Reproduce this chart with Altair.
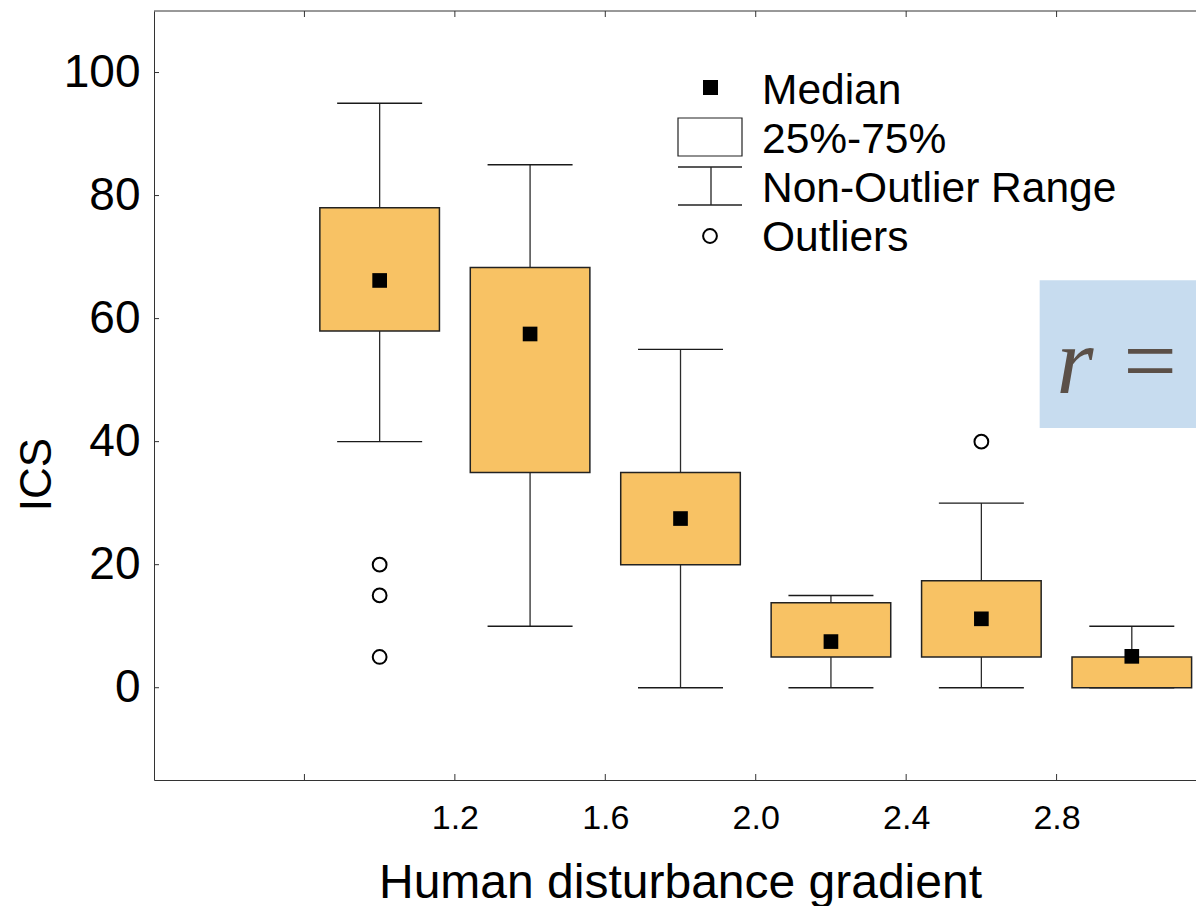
import altair as alt
import pandas as pd

# ---- data ----
group_x = [1.0, 1.4, 1.8, 2.2, 2.6, 3.0]
whisker_low = [40, 10, 0, 0, 0, 0]
q1 = [58, 35, 20, 5, 5, 0]
median = [66.2, 57.5, 27.5, 7.5, 11.2, 5.1]
q3 = [78, 68.3, 35, 13.8, 17.4, 5]
whisker_high = [95, 85, 55, 15, 30, 10]

outlier_x = [1.0, 1.0, 1.0, 2.6]
outlier_y = [20, 15, 5, 40]

x_tick_values = [0.8, 1.2, 1.6, 2.0, 2.4, 2.8]
x_label_values = [1.2, 1.6, 2.0, 2.4, 2.8]
y_tick_values = [0, 20, 40, 60, 80, 100]

legend_labels = ["Median", "25%-75%", "Non-Outlier Range", "Outliers"]

annot_text = ["r ="]
annot_box_x = [2.755, 3.1707]
annot_box_y = [42.2, 66.25]
annot_text_pos = [2.80, 47.9]

boxes = pd.DataFrame({
    "x": group_x, "low": whisker_low, "q1": q1, "med": median,
    "q3": q3, "high": whisker_high,
})
outliers = pd.DataFrame({"x": outlier_x, "y": outlier_y})

# ---- layout ----
W, H = 1042, 769
FONT = "Liberation Sans"
xs = alt.Scale(domain=[0.4, 3.1707], nice=False, zero=False)
ys = alt.Scale(domain=[-15, 110], nice=False, zero=False)

xaxis = alt.Axis(
    values=x_label_values, format=".1f", tickSize=0, grid=False,
    labelFontSize=34, labelPadding=21, labelFont=FONT, labelColor="black",
    domainColor="#333333", domainWidth=1,
    title="Human disturbance gradient", titleFont=FONT, titleFontSize=48,
    titleFontWeight="normal", titleColor="black",
    titleX=526, titleY=117, titleBaseline="alphabetic", titleAlign="center",
)
yaxis = alt.Axis(
    values=y_tick_values, format="d", tickSize=0, grid=False,
    labelFontSize=46, labelPadding=14, labelFont=FONT, labelColor="black",
    domainColor="#333333", domainWidth=1,
    title="ICS", titleFont=FONT, titleFontSize=44, titleFontWeight="normal",
    titleColor="black", titleAngle=270,
    titleX=-104, titleY=463, titleBaseline="alphabetic", titleAlign="center",
)

X = lambda f: alt.X(f, scale=xs, axis=xaxis)
Y = lambda f: alt.Y(f, scale=ys, axis=yaxis)

whiskers = alt.Chart(boxes).mark_rule(color="#2b2b2b", strokeWidth=1.3).encode(
    x=X("x:Q"), y=Y("low:Q"), y2="high:Q"
)

caps = alt.Chart(boxes).transform_fold(
    ["low", "high"], as_=["k", "v"]
).transform_calculate(
    xa="datum.x - 0.113", xb="datum.x + 0.113"
).mark_rule(color="#1a1a1a", strokeWidth=1.4).encode(
    x=X("xa:Q"), x2="xb:Q", y=Y("v:Q")
)

box = alt.Chart(boxes).transform_calculate(
    xa="datum.x - 0.159", xb="datum.x + 0.159"
).mark_rect(fill="#F8C264", stroke="#222222", strokeWidth=1.5).encode(
    x=X("xa:Q"), x2="xb:Q", y=Y("q1:Q"), y2="q3:Q"
)

med = alt.Chart(boxes).mark_point(
    shape="square", filled=True, color="black", size=215, opacity=1
).encode(x=X("x:Q"), y=Y("med:Q"))

outl = alt.Chart(outliers).mark_point(
    shape="circle", filled=True, fill="white", stroke="black",
    strokeWidth=2, size=190, opacity=1
).encode(x=X("x:Q"), y=Y("y:Q"))

# ticks (pointing inward)
yt = alt.Chart(pd.DataFrame({"v": y_tick_values})).mark_rule(
    color="#333333", strokeWidth=1
).encode(y=Y("v:Q"), x=alt.value(0), x2=alt.value(5))
xt_bottom = alt.Chart(pd.DataFrame({"v": x_tick_values})).mark_rule(
    color="#333333", strokeWidth=1
).encode(x=X("v:Q"), y=alt.value(H), y2=alt.value(H - 6))
xt_top = alt.Chart(pd.DataFrame({"v": x_tick_values})).mark_rule(
    color="#333333", strokeWidth=1
).encode(x=X("v:Q"), y=alt.value(0), y2=alt.value(6))
top_border = alt.Chart(pd.DataFrame({"v": [0]})).mark_rule(
    color="#333333", strokeWidth=1
).encode(x=alt.value(0), x2=alt.value(W), y=alt.value(0))

# annotation box "r ="
annot_df = pd.DataFrame({
    "x1": [annot_box_x[0]], "x2": [annot_box_x[1]],
    "y1": [annot_box_y[0]], "y2": [annot_box_y[1]],
    "tx": [annot_text_pos[0]], "ty": [annot_text_pos[1]], "t": annot_text,
})
annot_rect = alt.Chart(annot_df).mark_rect(fill="#C7DCEF").encode(
    x=X("x1:Q"), x2="x2:Q", y=Y("y1:Q"), y2="y2:Q"
)
annot_txt = alt.Chart(annot_df).mark_text(
    font="Liberation Serif", fontStyle="italic", fontSize=95,
    color="#5b5048", align="left", baseline="alphabetic"
).encode(x=X("tx:Q"), y=Y("ty:Q"), text="t:N")

# manual legend (pixel positions in the plot area)
leg_df = pd.DataFrame({"label": legend_labels})
leg_text = alt.Chart(leg_df).transform_window(
    idx="row_number()"
).transform_calculate(
    py="80 + (datum.idx - 1) * 49"
).mark_text(
    font=FONT, fontSize=42.5, align="left", baseline="middle", color="black"
).encode(x=alt.value(608), y=alt.Y("py:Q", scale=None, axis=None), text="label:N")

leg_base = alt.Chart(pd.DataFrame({"v": [0]}))
leg_median = leg_base.mark_point(
    shape="square", filled=True, color="black", size=225, opacity=1
).encode(x=alt.value(556.5), y=alt.value(76.5))
leg_box = leg_base.mark_rect(
    fill="white", stroke="#222222", strokeWidth=1.2
).encode(x=alt.value(524), x2=alt.value(588), y=alt.value(107), y2=alt.value(145))
leg_wh_top = leg_base.mark_rule(color="#222222", strokeWidth=1.3).encode(
    x=alt.value(524), x2=alt.value(588), y=alt.value(156))
leg_wh_bot = leg_base.mark_rule(color="#222222", strokeWidth=1.3).encode(
    x=alt.value(524), x2=alt.value(588), y=alt.value(194))
leg_wh_mid = leg_base.mark_rule(color="#222222", strokeWidth=1.3).encode(
    x=alt.value(557), y=alt.value(156), y2=alt.value(194))
leg_out = leg_base.mark_point(
    shape="circle", filled=True, fill="white", stroke="black",
    strokeWidth=2, size=190, opacity=1
).encode(x=alt.value(556), y=alt.value(225))

chart = alt.layer(
    whiskers, caps, box, med, outl, yt, xt_bottom, xt_top, top_border,
    annot_rect, annot_txt,
    leg_median, leg_box, leg_wh_top, leg_wh_bot, leg_wh_mid, leg_out, leg_text,
).properties(
    width=W, height=H,
    autosize=alt.AutoSizeParams(type="none"),
    padding={"left": 154, "top": 11, "right": 0, "bottom": 126},
    background="white",
).configure_view(stroke=None)

chart.save("out.html", embed_options={"renderer": "svg", "actions": False})
